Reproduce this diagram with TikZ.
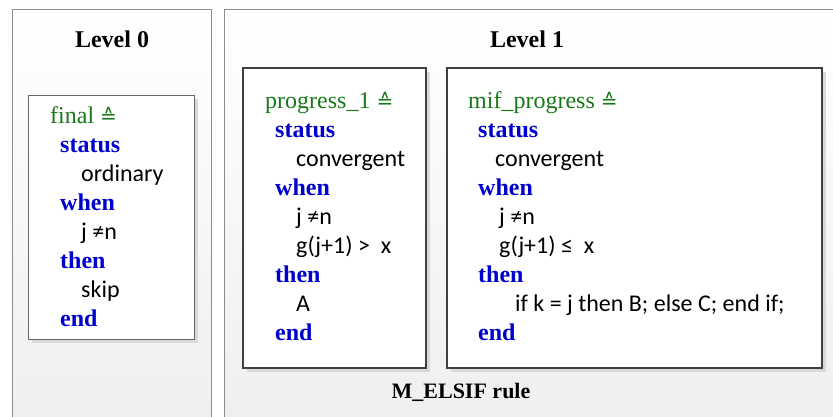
\documentclass[tikz,border=0pt]{standalone}
\usepackage{fontspec}
\setmainfont{Liberation Serif}
\newfontfamily\codefont{Carlito}
\newfontfamily\symfont{DejaVu Sans}
\usetikzlibrary{shadows}

\definecolor{kwblue}{RGB}{0,0,204}
\definecolor{defgreen}{RGB}{25,120,25}
\newcommand{\kw}[1]{{\rmfamily\fontsize{24}{29.1}\selectfont\bfseries\color{kwblue}#1}}
\newcommand{\evname}[1]{{\rmfamily\fontsize{24}{29.1}\selectfont\color{defgreen}#1 {\symfont\fontsize{20}{29.1}\selectfont ≙}}}

\tikzset{
  panel/.style={draw=gray!90, line width=0.8pt, top color=white, bottom color=gray!13},
  level/.style={font=\fontsize{24}{29}\selectfont\bfseries, inner sep=0pt, anchor=base},
  thinbox/.style={draw=gray!80!black, line width=0.9pt, fill=white, anchor=north west,
    drop shadow={shadow xshift=3.5pt, shadow yshift=-3.5pt, fill=gray!30, opacity=1}},
  eventbox/.style={thinbox, draw=black!75, line width=2.4pt},
  % base anchor of a multi-line node sits on its last line
  code/.style={font=\codefont\fontsize{24}{29.1}\selectfont, align=left, inner sep=0pt, anchor=base west},
}

\begin{document}
\begin{tikzpicture}[x=1pt, y=-1pt]
  \useasboundingbox (0,0) rectangle (833,416);

  % Panels
  \path[panel] (12,9) rectangle (211,430);
  \path[panel] (224,9) rectangle (845,430);

  % Titles
  \node[level] (lvl0) at (112,47) {Level 0};
  \node[level] (lvl1) at (527,47) {Level 1};
  \node[level, font=\fontsize{22}{29}\selectfont\bfseries] (rule) at (461,398) {M\_ELSIF rule};

  % Boxes
  \node[thinbox, minimum width=166pt, minimum height=244pt] (final_box) at (28,95) {};
  \node[eventbox, minimum width=183pt, minimum height=300pt] (prog_box) at (242,67) {};
  \node[eventbox, minimum width=375pt, minimum height=300pt] (mif_box) at (446,67) {};

  % Events
  \node[code] (final_txt) at (50,326.7) {%
    \evname{final}\\
    \hspace*{10pt}\kw{status}\\
    \hspace*{31pt}ordinary\\
    \hspace*{10pt}\kw{when}\\
    \hspace*{31pt}j ≠n\\
    \hspace*{10pt}\kw{then}\\
    \hspace*{31pt}skip\\
    \hspace*{10pt}\kw{end}};
  \node[code] (prog_txt) at (265,340.8) {%
    \evname{progress\_1}\\
    \hspace*{10pt}\kw{status}\\
    \hspace*{31pt}convergent\\
    \hspace*{10pt}\kw{when}\\
    \hspace*{31pt}j ≠n\\
    \hspace*{31pt}g(j+1) >\ \ x\\
    \hspace*{10pt}\kw{then}\\
    \hspace*{31pt}A\\
    \hspace*{10pt}\kw{end}};
  \node[code] (mif_txt) at (468,340.8) {%
    \evname{mif\_progress}\\
    \hspace*{10pt}\kw{status}\\
    \hspace*{27pt}convergent\\
    \hspace*{10pt}\kw{when}\\
    \hspace*{31pt}j ≠n\\
    \hspace*{31pt}g(j+1) ≤\ \ x\\
    \hspace*{10pt}\kw{then}\\
    \hspace*{47pt}if k = j then B; else C; end if;\\
    \hspace*{10pt}\kw{end}};
\end{tikzpicture}
\end{document}
